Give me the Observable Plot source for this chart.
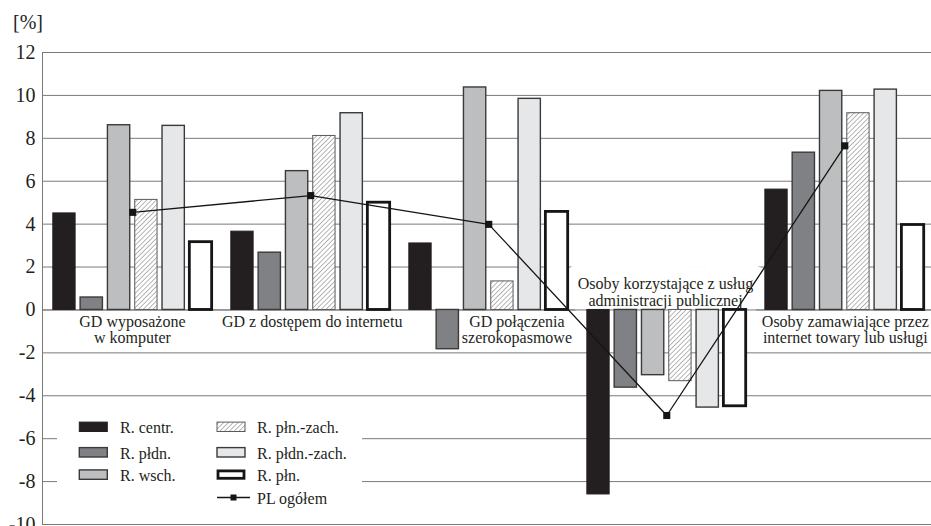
<!DOCTYPE html>
<html>
<head>
<meta charset="utf-8">
<script src="https://cdn.jsdelivr.net/npm/d3@7"></script>
<script src="https://cdn.jsdelivr.net/npm/@observablehq/plot@0.6"></script>
<style>
  html, body { margin: 0; padding: 0; background: #fff; overflow: hidden; }
  #wrap { position: relative; width: 931px; height: 526px; }
  #legend { position: absolute; left: 57px; top: 401px; width: 305px; height: 114px; background: #fff; }
  #defs { position: absolute; width: 0; height: 0; }
</style>
</head>
<body>
<svg id="defs" width="0" height="0">
  <defs>
    <pattern id="hatch" patternUnits="userSpaceOnUse" width="3.4" height="3.4" patternTransform="rotate(45)">
      <rect width="3.4" height="3.4" fill="#fff"></rect>
      <line x1="0" y1="0" x2="0" y2="3.4" stroke="#6e6e6e" stroke-width="1"></line>
    </pattern>
  </defs>
</svg>
<div id="wrap"><div id="legend"></div></div>
<script>
// ---------- data ----------
const groups = [
  "GD wyposażone\nw komputer",
  "GD z dostępem do internetu",
  "GD połączenia\nszerokopasmowe",
  "Osoby korzystające z usług\nadministracji publicznej",
  "Osoby zamawiające przez\ninternet towary lub usługi"
];
const series = ["R. centr.", "R. płdn.", "R. wsch.", "R. płn.-zach.", "R. płdn.-zach.", "R. płn."];
const lineName = "PL ogółem";

const rCentr    = [4.5, 3.65, 3.1, -8.6, 5.61];
const rPldn     = [0.58, 2.67, -1.83, -3.62, 7.33];
const rWsch     = [8.61, 6.47, 10.37, -3.04, 10.21];
const rPlnZach  = [5.13, 8.11, 1.33, -3.32, 9.17];
const rPldnZach = [8.58, 9.17, 9.84, -4.55, 10.27];
const rPln      = [3.16, 5.0, 4.57, -4.49, 3.96];
const plOgolem  = [4.55, 5.33, 3.99, -4.92, 7.65];

const yTicks = [-10, -8, -6, -4, -2, 0, 2, 4, 6, 8, 10, 12];
const yUnit = "[%]";

// ---------- layout / styles ----------
const values = [rCentr, rPldn, rWsch, rPlnZach, rPldnZach, rPln];
const BAR_OFF = 0.0607, BAR_STEP = 0.1534, BAR_W = 0.1253;   // in group units
const fills   = ["#231f20", "#808184", "#bcbec0", "url(#hatch)", "#e6e7e8", "#ffffff"];
const strokes = ["#231f20", "#3a3a3a", "#3a3a3a", "#5a5a5a", "#3a3a3a", "#151515"];
const sws     = [1, 1.4, 1.4, 1, 1.4, 2.8];
const labelShift = [0.005, 0.015, 0.165, 0, 0.01];
const labelAbove = [false, false, false, true, false];
const gridColor = "#7a7a7a";
const fontFamily = "'Liberation Serif', 'Times New Roman', 'DejaVu Serif', serif";

const rows = [];
values.forEach((arr, si) => arr.forEach((v, gi) => rows.push({gi, si, series: series[si], value: v})));
const barCenter = BAR_OFF + (5 * BAR_STEP + BAR_W) / 2;
const plRows = plOgolem.map((v, gi) => ({gi, x: gi + barCenter, value: v}));
const labelRows = groups.map((g, gi) => ({gi, text: g, x: gi + 0.5 + labelShift[gi], above: labelAbove[gi]}));
const below = labelRows.filter(d => !d.above);
const above = labelRows.filter(d => d.above);

const barMarks = series.map((s, si) => Plot.rect(rows.filter(d => d.si === si), {
  x1: d => d.gi + BAR_OFF + si * BAR_STEP,
  x2: d => d.gi + BAR_OFF + si * BAR_STEP + BAR_W,
  y1: 0,
  y2: "value",
  fill: fills[si],
  stroke: strokes[si],
  strokeWidth: sws[si]
}));

const belowOpts = {x: "x", y: 0, text: "text", lineAnchor: "top", dy: 5, lineHeight: 1.03, fontSize: 16};
const aboveOpts = {x: "x", y: 0, text: "text", lineAnchor: "bottom", dy: -4, lineHeight: 1.03, fontSize: 16};

const chart = Plot.plot({
  width: 931,
  height: 526,
  marginLeft: 42,
  marginRight: 0,
  marginTop: 52,
  marginBottom: 2,
  style: {fontFamily, fontSize: "16px", background: "#fff", color: "#231f20"},
  x: {type: "linear", domain: [0, 4.994], axis: null},
  y: {domain: [-10, 12], axis: null},
  marks: [
    Plot.ruleY(yTicks, {stroke: gridColor, strokeWidth: 1}),
    // white boxes (halos) behind category labels
    Plot.text(below, {...belowOpts, fill: "white", stroke: "white", strokeWidth: 5, strokeLinejoin: "round"}),
    Plot.text(above, {...aboveOpts, fill: "white", stroke: "white", strokeWidth: 30, strokeLinejoin: "round"}),
    Plot.text(below, {...belowOpts, fill: "#231f20"}),
    Plot.text(above, {...aboveOpts, fill: "#231f20"}),
    Plot.ruleY([0], {stroke: gridColor, strokeWidth: 1}),
    Plot.ruleX([0], {y1: -10, y2: 12, stroke: gridColor, strokeWidth: 1}),
    ...barMarks,
    Plot.line(plRows, {x: "x", y: "value", stroke: "#151515", strokeWidth: 1.3}),
    Plot.dot(plRows, {x: "x", y: "value", symbol: "square", r: 4, fill: "#151515", stroke: "none"}),
    Plot.axisY(yTicks, {tickSize: 0, tickPadding: 7, fontSize: 20, tickFormat: d => String(d), label: null, fill: "#231f20"}),
    Plot.text([yUnit], {text: d => d, frameAnchor: "top-left", dx: -29.5, dy: -29.5, textAnchor: "start", lineAnchor: "middle", fontSize: 20, fill: "#231f20"})
  ]
});
document.getElementById("wrap").insertBefore(chart, document.getElementById("legend"));

// ---------- legend ----------
const leg = d3.select("#legend").append("svg").attr("width", 305).attr("height", 114)
  .style("font-family", fontFamily).style("font-size", "16px");
const legendPos = [
  {col: 0, row: 0}, {col: 0, row: 1}, {col: 0, row: 2},
  {col: 1, row: 0}, {col: 1, row: 1}, {col: 1, row: 2}
];
const colX = [22.3, 160], colTextX = [63, 200];
const rowY = [25.8, 51.3, 73.6, 96.5];
series.forEach((s, si) => {
  const p = legendPos[si];
  const inset = si === 5 ? 1 : 0;
  leg.append("rect")
    .attr("x", colX[p.col] + inset).attr("y", rowY[p.row] - 4.7 + inset)
    .attr("width", 28 - 2 * inset).attr("height", 9.4 - 2 * inset)
    .attr("fill", fills[si]).attr("stroke", strokes[si]).attr("stroke-width", sws[si]);
  leg.append("text").attr("x", colTextX[p.col]).attr("y", rowY[p.row] + 1)
    .attr("dominant-baseline", "central").attr("fill", "#231f20").text(s);
});
leg.append("line").attr("x1", 160).attr("x2", 193).attr("y1", rowY[3]).attr("y2", rowY[3])
  .attr("stroke", "#151515").attr("stroke-width", 1.3);
leg.append("rect").attr("x", 176.5 - 3).attr("y", rowY[3] - 3).attr("width", 6).attr("height", 6).attr("fill", "#151515");
leg.append("text").attr("x", colTextX[1]).attr("y", rowY[3] + 1)
  .attr("dominant-baseline", "central").attr("fill", "#231f20").text(lineName);
</script>
</body>
</html>
